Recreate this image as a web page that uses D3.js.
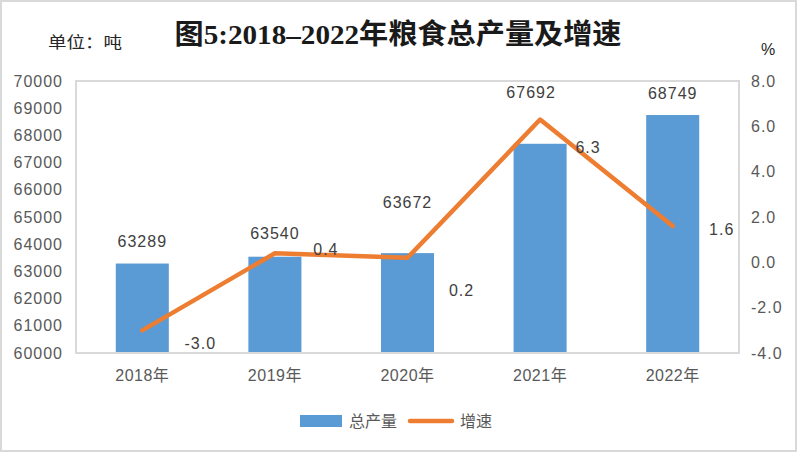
<!DOCTYPE html>
<html><head><meta charset="utf-8">
<script src="https://cdn.jsdelivr.net/npm/d3@7"></script>
<style>body{margin:0;background:#fff;}svg{display:block;}</style>
</head><body>
<svg id="c" width="797" height="452"></svg>
<script>
const categories = ["2018年","2019年","2020年","2021年","2022年"];
const output = [63289, 63540, 63672, 67692, 68749];
const growth = [-3.0, 0.4, 0.2, 6.3, 1.6];
const leftTicks = [60000,61000,62000,63000,64000,65000,66000,67000,68000,69000,70000];
const rightTicks = [-4,-2,0,2,4,6,8];
// label placement offsets (style, not data)
const barLabelDy = [-22, -23, -51, -51, -22];
const barLabelDx = [0, 0, 0, -9, 0];
const lineLabelDx = [58, 51, 54, 48, 49];
const lineLabelDy = [13, -4, 33, 28, 3];

const svg = d3.select("#c");
const W = 797, H = 452;
const m = {l:76, r:739, t:81, b:353};
const blue = "#5B9BD5", orange = "#ED7D31";
const sans = "'Liberation Sans','Noto Sans CJK SC',sans-serif";
const f1 = d => d.toFixed(1);

svg.append("rect").attr("x",1).attr("y",1).attr("width",W-2).attr("height",H-2)
  .attr("fill","#fff").attr("stroke","#d9d9d9").attr("stroke-width",2);

const x = d3.scaleBand().domain(categories).range([m.l,m.r]).paddingInner(0.6).paddingOuter(0.3);
const yL = d3.scaleLinear().domain([60000,70000]).range([m.b,m.t]);
const yR = d3.scaleLinear().domain([-4,8]).range([m.b,m.t]);
const cx = d => x(d) + x.bandwidth()/2;

// title
svg.append("text").attr("x",398).attr("y",44).attr("text-anchor","middle")
  .attr("font-family","'Liberation Serif','Noto Sans CJK SC',serif").attr("font-weight","bold")
  .attr("font-size",28).attr("fill","#1a1a1a")
  .attr("textLength",447).attr("lengthAdjust","spacingAndGlyphs")
  .text("图5:2018–2022年粮食总产量及增速");
svg.append("text").attr("x",48).attr("y",48).attr("font-family",sans).attr("font-size",16)
  .attr("fill","#262626").attr("textLength",74).attr("lengthAdjust","spacingAndGlyphs").text("单位：吨");
svg.append("text").attr("x",768).attr("y",55).attr("text-anchor","middle").attr("font-family",sans)
  .attr("font-size",16).attr("fill","#262626").text("%");

// bars
svg.append("g").selectAll("rect").data(output).join("rect")
  .attr("x",(d,i)=>x(categories[i])).attr("width",x.bandwidth())
  .attr("y",d=>yL(d)).attr("height",d=>m.b-yL(d)).attr("fill",blue);

// plot frame
svg.append("rect").attr("x",m.l).attr("y",m.t).attr("width",m.r-m.l).attr("height",m.b-m.t)
  .attr("fill","none").attr("stroke","#d9d9d9").attr("stroke-width",2);

// left axis
const axL = d3.axisLeft(yL).tickValues(leftTicks).tickSize(0).tickPadding(13).tickFormat(d3.format("d"));
const gL = svg.append("g").attr("transform",`translate(${m.l},0)`).call(axL);
gL.select(".domain").remove();
gL.selectAll("text").attr("font-family",sans).attr("font-size",16).attr("letter-spacing",1).attr("fill","#595959");

// right axis
const axR = d3.axisRight(yR).tickValues(rightTicks).tickSize(0).tickPadding(12).tickFormat(f1);
const gR = svg.append("g").attr("transform",`translate(${m.r},0)`).call(axR);
gR.select(".domain").remove();
gR.selectAll("text").attr("font-family",sans).attr("font-size",16).attr("letter-spacing",1).attr("fill","#595959");

// x axis
const axX = d3.axisBottom(x).tickSize(0).tickPadding(17);
const gX = svg.append("g").attr("transform",`translate(0,${m.b})`).call(axX);
gX.select(".domain").remove();
gX.selectAll("text").attr("font-family",sans).attr("font-size",16).attr("letter-spacing",0.5).attr("fill","#595959");

// line
const line = d3.line().x((d,i)=>cx(categories[i])).y(d=>yR(d));
svg.append("path").datum(growth).attr("d",line).attr("fill","none")
  .attr("stroke",orange).attr("stroke-width",4.5).attr("stroke-linejoin","round").attr("stroke-linecap","round");

// bar labels
svg.append("g").selectAll("text").data(output).join("text")
  .attr("x",(d,i)=>cx(categories[i])+barLabelDx[i]).attr("y",(d,i)=>yL(d)+barLabelDy[i])
  .attr("text-anchor","middle").attr("dominant-baseline","central")
  .attr("font-family",sans).attr("font-size",16).attr("letter-spacing",1).attr("fill","#404040")
  .text(d=>d);

// line labels
svg.append("g").selectAll("text").data(growth).join("text")
  .attr("x",(d,i)=>cx(categories[i])+lineLabelDx[i]).attr("y",(d,i)=>yR(d)+lineLabelDy[i])
  .attr("text-anchor","middle").attr("dominant-baseline","central")
  .attr("font-family",sans).attr("font-size",16).attr("letter-spacing",1).attr("fill","#404040")
  .text(f1);

// legend
const lg = svg.append("g");
lg.append("rect").attr("x",300).attr("y",415).attr("width",42).attr("height",12).attr("fill",blue);
lg.append("text").attr("x",349).attr("y",421).attr("dominant-baseline","central")
  .attr("font-family",sans).attr("font-size",16).attr("fill","#595959").text("总产量");
lg.append("line").attr("x1",410).attr("x2",452).attr("y1",421).attr("y2",421)
  .attr("stroke",orange).attr("stroke-width",4.5).attr("stroke-linecap","round");
lg.append("text").attr("x",460).attr("y",421).attr("dominant-baseline","central")
  .attr("font-family",sans).attr("font-size",16).attr("fill","#595959").text("增速");
</script>
</body></html>
